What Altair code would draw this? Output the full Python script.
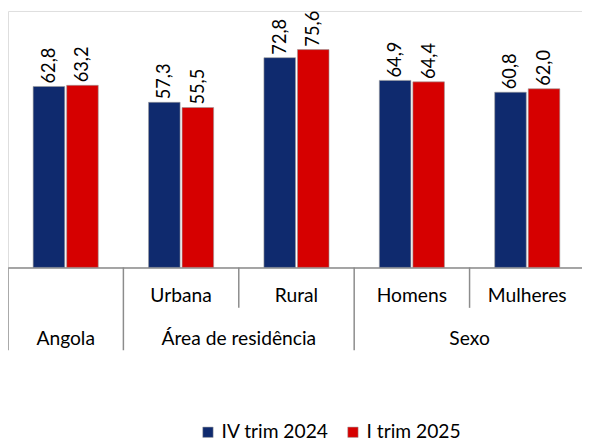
import altair as alt
import pandas as pd

categories = ["Angola", "Urbana", "Rural", "Homens", "Mulheres"]
series = ["IV trim 2024", "I trim 2025"]
values_2024 = [62.8, 57.3, 72.8, 64.9, 60.8]
values_2025 = [63.2, 55.5, 75.6, 64.4, 62.0]
group_labels = ["Angola", "Área de residência", "Sexo"]
group_anchor = ["Angola", "Urbana", "Homens"]   # cell where each group label sits
colors = ["#0f2a6e", "#d60000"]

rows = []
for c, a, b in zip(categories, values_2024, values_2025):
    rows.append({"cat": c, "serie": series[0], "v": a})
    rows.append({"cat": c, "serie": series[1], "v": b})
df = pd.DataFrame(rows)
df["label"] = df["v"].map(lambda v: f"{v:.1f}".replace(".", ","))

H = 260
FONT = "Lato"
FS = 19.5
VFS = 18.5
LINE = "#8c8c8c"

xscale = alt.Scale(domain=categories, range=[0, 585], paddingInner=0, paddingOuter=0)
xenc = alt.X("cat:N", sort=categories, scale=xscale,
             axis=alt.Axis(title=None, ticks=False, labelAngle=0, labelBaseline="middle",
                           labelPadding=29, labelFont=FONT, labelFontSize=FS, labelColor="#000",
                           domainColor=LINE, domainWidth=1.5,
                           labelExpr="datum.value == 'Angola' ? '' : datum.value"))
xoff = alt.XOffset("serie:N", sort=series,
                   scale=alt.Scale(paddingInner=0.0588, paddingOuter=0.75))
yscale = alt.Scale(domain=[0, 89])

base = alt.Chart(df)
bars = base.mark_bar(stroke="#9a9a9a", strokeWidth=0.6).encode(
    x=xenc,
    xOffset=xoff,
    y=alt.Y("v:Q", scale=yscale, axis=None),
    color=alt.Color("serie:N", sort=series,
                    scale=alt.Scale(domain=series, range=colors),
                    legend=alt.Legend(title=None, orient="none", direction="horizontal",
                                      legendX=193, legendY=417, symbolType="square",
                                      symbolSize=110, symbolStrokeWidth=0.5,
                                      labelFont=FONT, labelFontSize=FS, labelColor="#000",
                                      labelOffset=4, columnPadding=14)),
)
labels = base.mark_text(angle=270, align="left", baseline="middle", dx=3,
                        font=FONT, fontSize=VFS, color="#000").encode(
    x=alt.X("cat:N", sort=categories, scale=xscale),
    xOffset=xoff,
    y=alt.Y("v:Q", scale=yscale),
    text="label:N",
)

cells = pd.DataFrame({"cat": categories,
                      "long": [True, True, False, True, False]})
long_lines = alt.Chart(cells).transform_filter("datum.long").mark_rule(
    color=LINE, strokeWidth=1.5).encode(
    x=alt.X("cat:N", sort=categories, scale=xscale, bandPosition=0),
    y=alt.value(H), y2=alt.value(H + 84))
short_lines = alt.Chart(cells).transform_filter("!datum.long").mark_rule(
    color=LINE, strokeWidth=1.5).encode(
    x=alt.X("cat:N", sort=categories, scale=xscale, bandPosition=0),
    y=alt.value(H), y2=alt.value(H + 41))

gdf = pd.DataFrame({"g": group_labels, "cat": group_anchor,
                    "center": [True, False, False]})
glab_center = alt.Chart(gdf).transform_filter("datum.center").mark_text(
    font=FONT, fontSize=FS, color="#000", baseline="middle").encode(
    x=alt.X("cat:N", sort=categories, scale=xscale, bandPosition=0.5),
    y=alt.value(H + 73), text="g:N")
glab_edge = alt.Chart(gdf).transform_filter("!datum.center").mark_text(
    font=FONT, fontSize=FS, color="#000", baseline="middle").encode(
    x=alt.X("cat:N", sort=categories, scale=xscale, bandPosition=1),
    y=alt.value(H + 73), text="g:N")

chart = alt.layer(bars, labels, long_lines, short_lines, glab_center, glab_edge).properties(
    width=582, height=H,
    autosize=alt.AutoSizeParams(type="none"),
    padding={"left": 0, "top": 0, "right": 0, "bottom": 174},
).configure_view(stroke=None).configure(font=FONT)

chart.save("out.html", embed_options={"renderer": "svg", "actions": False})
